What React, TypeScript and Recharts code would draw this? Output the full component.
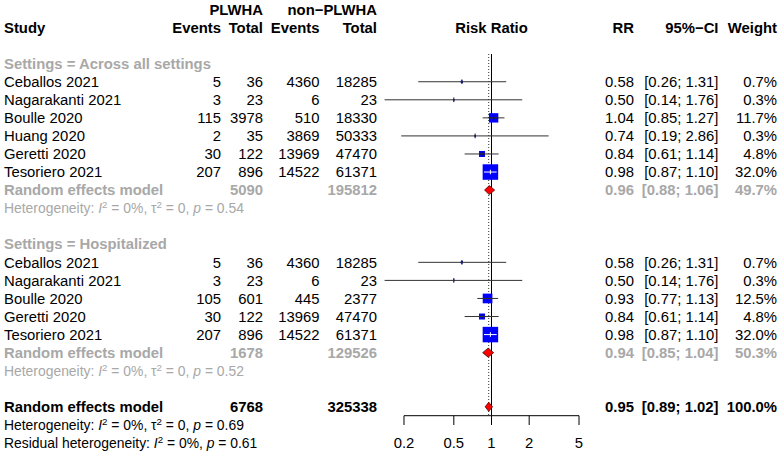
import React from 'react';
import { ComposedChart, XAxis, YAxis, Scatter, ErrorBar, Area, Line } from 'recharts';

// subgroup 1: across all settings
const allStudy = ['Ceballos 2021', 'Nagarakanti 2021', 'Boulle 2020', 'Huang 2020', 'Geretti 2020', 'Tesoriero 2021'];
const allEventsPlwha = [5, 3, 115, 2, 30, 207];
const allTotalPlwha = [36, 23, 3978, 35, 122, 896];
const allEventsNon = [4360, 6, 510, 3869, 13969, 14522];
const allTotalNon = [18285, 23, 18330, 50333, 47470, 61371];
const allRR = [0.58, 0.5, 1.04, 0.74, 0.84, 0.98];
const allLower = [0.26, 0.14, 0.85, 0.19, 0.61, 0.87];
const allUpper = [1.31, 1.76, 1.27, 2.86, 1.14, 1.1];
const allWeight = [0.7, 0.3, 11.7, 0.3, 4.8, 32.0];

// subgroup 2: hospitalized
const hospStudy = ['Ceballos 2021', 'Nagarakanti 2021', 'Boulle 2020', 'Geretti 2020', 'Tesoriero 2021'];
const hospEventsPlwha = [5, 3, 105, 30, 207];
const hospTotalPlwha = [36, 23, 601, 122, 896];
const hospEventsNon = [4360, 6, 445, 13969, 14522];
const hospTotalNon = [18285, 23, 2377, 47470, 61371];
const hospRR = [0.58, 0.5, 0.93, 0.84, 0.98];
const hospLower = [0.26, 0.14, 0.77, 0.61, 0.87];
const hospUpper = [1.31, 1.76, 1.13, 1.14, 1.1];
const hospWeight = [0.7, 0.3, 12.5, 4.8, 32.0];

// subgroup summaries
const subgroupNames = ['Across all settings', 'Hospitalized'];
const subTotalPlwha = [5090, 1678];
const subTotalNon = [195812, 129526];
const subRR = [0.96, 0.94];
const subLower = [0.88, 0.85];
const subUpper = [1.06, 1.04];
const subWeight = [49.7, 50.3];
const subHetP = [0.54, 0.52];

// overall
const overallTotal = [6768, 325338];
const overallRR = 0.95;
const overallLower = 0.89;
const overallUpper = 1.02;
const overallWeight = 100.0;
const overallHetP = 0.69;
const residualHetP = 0.61;

const xTicks = [0.2, 0.5, 1, 2, 5];

// layout
const W = 779;
const H = 454;
const CENTER_X = 491.5;
const PX_PER_LN = 54.37;
const HALF_SPAN = PX_PER_LN * Math.log(10);
const ROW0 = 9.5;
const ROW_H = 18.06;
const TOP_ROW = (54 - ROW0) / ROW_H;
const AXIS_ROW = (415.7 - ROW0) / ROW_H;
const LABEL_ROW = 24;
const DIAMOND_H = 0.25;
const FONT = '"Liberation Sans", Arial, Helvetica, sans-serif';
const FS = 14.85;
const HET_FS = 13.9;
const GRAY = '#a8a8a8';
const COL = { study: 4, evA: 221, totA: 263, evB: 319.5, totB: 377, rr: 634, ci: 718.5, wt: 777 };

type Anchor = 'start' | 'middle' | 'end';
type Cell = { text: string; x: number; anchor: Anchor };
type Het = { prefix: string; i2: string; tau2?: string; p: string };
type TextRow = { x: number; row: number; bold: boolean; color: string; cells: Cell[]; het?: Het };
type CiPoint = { x: number; row: number; w: number; err: number[] };

const groups = [
  { study: allStudy, evA: allEventsPlwha, totA: allTotalPlwha, evB: allEventsNon, totB: allTotalNon, rr: allRR, lo: allLower, hi: allUpper, w: allWeight },
  { study: hospStudy, evA: hospEventsPlwha, totA: hospTotalPlwha, evB: hospEventsNon, totB: hospTotalNon, rr: hospRR, lo: hospLower, hi: hospUpper, w: hospWeight },
];

const fmtCI = (lo: number, hi: number) => `[${lo.toFixed(2)}; ${hi.toFixed(2)}]`;
const boxSide = (w: number) => Math.max(1.6, 15.5 * Math.sqrt(w / 32));

const textRows: TextRow[] = [];
const boxes: { x: number; row: number; w: number }[] = [];
const ciOut: CiPoint[] = [];
const ciIn: CiPoint[] = [];
const diamonds: { rr: number; lo: number; hi: number; row: number }[] = [];

textRows.push({
  x: 1, row: 0, bold: true, color: '#000',
  cells: [
    { text: 'PLWHA', x: COL.totA, anchor: 'end' },
    { text: 'non\u2212PLWHA', x: COL.totB, anchor: 'end' },
  ],
});
textRows.push({
  x: 1, row: 1, bold: true, color: '#000',
  cells: [
    { text: 'Study', x: COL.study, anchor: 'start' },
    { text: 'Events', x: COL.evA, anchor: 'end' },
    { text: 'Total', x: COL.totA, anchor: 'end' },
    { text: 'Events', x: COL.evB, anchor: 'end' },
    { text: 'Total', x: COL.totB, anchor: 'end' },
    { text: 'RR', x: COL.rr, anchor: 'end' },
    { text: '95%\u2212CI', x: COL.ci, anchor: 'end' },
    { text: 'Weight', x: COL.wt, anchor: 'end' },
  ],
});

let row = 3;
groups.forEach((g, gi) => {
  textRows.push({
    x: 1, row, bold: true, color: GRAY,
    cells: [{ text: `Settings = ${subgroupNames[gi]}`, x: COL.study, anchor: 'start' }],
  });
  row++;
  g.study.forEach((s, i) => {
    textRows.push({
      x: 1, row, bold: false, color: '#000',
      cells: [
        { text: s, x: COL.study, anchor: 'start' },
        { text: String(g.evA[i]), x: COL.evA, anchor: 'end' },
        { text: String(g.totA[i]), x: COL.totA, anchor: 'end' },
        { text: String(g.evB[i]), x: COL.evB, anchor: 'end' },
        { text: String(g.totB[i]), x: COL.totB, anchor: 'end' },
        { text: g.rr[i].toFixed(2), x: COL.rr, anchor: 'end' },
        { text: fmtCI(g.lo[i], g.hi[i]), x: COL.ci, anchor: 'end' },
        { text: `${g.w[i].toFixed(1)}%`, x: COL.wt, anchor: 'end' },
      ],
    });
    boxes.push({ x: g.rr[i], row, w: g.w[i] });
    // meta draws the CI in white when it lies fully inside the square
    const half = boxSide(g.w[i]) / 2;
    const inside =
      PX_PER_LN * Math.log(g.rr[i] / g.lo[i]) < half && PX_PER_LN * Math.log(g.hi[i] / g.rr[i]) < half;
    (inside ? ciIn : ciOut).push({ x: g.rr[i], row, w: g.w[i], err: [g.rr[i] - g.lo[i], g.hi[i] - g.rr[i]] });
    row++;
  });
  textRows.push({
    x: 1, row, bold: true, color: GRAY,
    cells: [
      { text: 'Random effects model', x: COL.study, anchor: 'start' },
      { text: String(subTotalPlwha[gi]), x: COL.totA, anchor: 'end' },
      { text: String(subTotalNon[gi]), x: COL.totB, anchor: 'end' },
      { text: subRR[gi].toFixed(2), x: COL.rr, anchor: 'end' },
      { text: fmtCI(subLower[gi], subUpper[gi]), x: COL.ci, anchor: 'end' },
      { text: `${subWeight[gi].toFixed(1)}%`, x: COL.wt, anchor: 'end' },
    ],
  });
  diamonds.push({ rr: subRR[gi], lo: subLower[gi], hi: subUpper[gi], row });
  row++;
  textRows.push({
    x: 1, row, bold: false, color: GRAY, cells: [],
    het: { prefix: 'Heterogeneity: ', i2: '0%', tau2: '0', p: subHetP[gi].toFixed(2) },
  });
  row += 2;
});

textRows.push({
  x: 1, row, bold: true, color: '#000',
  cells: [
    { text: 'Random effects model', x: COL.study, anchor: 'start' },
    { text: String(overallTotal[0]), x: COL.totA, anchor: 'end' },
    { text: String(overallTotal[1]), x: COL.totB, anchor: 'end' },
    { text: overallRR.toFixed(2), x: COL.rr, anchor: 'end' },
    { text: fmtCI(overallLower, overallUpper), x: COL.ci, anchor: 'end' },
    { text: `${overallWeight.toFixed(1)}%`, x: COL.wt, anchor: 'end' },
  ],
});
diamonds.push({ rr: overallRR, lo: overallLower, hi: overallUpper, row });
textRows.push({
  x: 1, row: row + 1, bold: false, color: '#000', cells: [],
  het: { prefix: 'Heterogeneity: ', i2: '0%', tau2: '0', p: overallHetP.toFixed(2) },
});
textRows.push({
  x: 1, row: row + 2, bold: false, color: '#000', cells: [],
  het: { prefix: 'Residual heterogeneity: ', i2: '0%', p: residualHetP.toFixed(2) },
});

const centerLabels = [
  { x: 1, row: 1, label: 'Risk Ratio', bold: true },
  ...xTicks.map(t => ({ x: t, row: LABEL_ROW, label: String(t), bold: false })),
];

const renderTextRow = (p: any) => {
  const r: TextRow = p.payload;
  const y = p.cy;
  if (r.het) {
    const h = r.het;
    return (
      <text x={COL.study} y={y} dy="0.35em" fontFamily={FONT} fontSize={HET_FS} fill={r.color}>
        {h.prefix}
        <tspan fontStyle="italic">I</tspan>
        <tspan dy={-5} fontSize={HET_FS * 0.7}>2</tspan>
        <tspan dy={5}>{` = ${h.i2}, `}</tspan>
        {h.tau2 !== undefined && (
          <>
            <tspan>{'\u03c4'}</tspan>
            <tspan dy={-5} fontSize={HET_FS * 0.7}>2</tspan>
            <tspan dy={5}>{` = ${h.tau2}, `}</tspan>
          </>
        )}
        <tspan fontStyle="italic">p</tspan>
        <tspan>{` = ${h.p}`}</tspan>
      </text>
    );
  }
  return (
    <g>
      {r.cells.map((c, i) => (
        <text
          key={i}
          x={c.x}
          y={y}
          dy="0.35em"
          textAnchor={c.anchor}
          fontFamily={FONT}
          fontSize={FS}
          fontWeight={r.bold ? 700 : 400}
          fill={r.color}
        >
          {c.text}
        </text>
      ))}
    </g>
  );
};

const renderCenterLabel = (p: any) => (
  <text
    x={p.cx}
    y={p.cy}
    dy="0.35em"
    textAnchor="middle"
    fontFamily={FONT}
    fontSize={FS}
    fontWeight={p.payload.bold ? 700 : 400}
    fill="#000"
  >
    {p.payload.label}
  </text>
);

const renderBox = (p: any) => {
  const s = boxSide(p.payload.w);
  return <rect x={p.cx - s / 2} y={p.cy - s / 2} width={s} height={s} fill="#0000ff" />;
};

// cross drawn over the square: the CI passes through it, plus a small tick at the estimate
const estCross = (color: string, across: boolean) => (p: any) => {
  const s = boxSide(p.payload.w);
  return (
    <g>
      {across && (
        <line x1={p.cx - s / 2} x2={p.cx + s / 2} y1={p.cy} y2={p.cy} stroke={color} strokeWidth={1} />
      )}
      <line x1={p.cx} x2={p.cx} y1={p.cy - 2.3} y2={p.cy + 2.3} stroke={color} strokeWidth={1} />
    </g>
  );
};

const renderAxisTick = (p: any) => (
  <line x1={p.cx} x2={p.cx} y1={p.cy} y2={p.cy + 9.3} stroke="#000" strokeWidth={1} />
);

export default function App() {
  return (
    <div style={{ position: 'absolute', left: 0, top: 0, background: '#fff' }}>
      <ComposedChart
        width={W}
        height={H}
        margin={{ top: 0, bottom: 0, left: CENTER_X - HALF_SPAN, right: W - CENTER_X - HALF_SPAN }}
      >
        <XAxis type="number" dataKey="x" scale="log" domain={[0.1, 10]} hide height={0} />
        <YAxis type="number" dataKey="row" domain={[-ROW0 / ROW_H, (H - ROW0) / ROW_H]} reversed hide width={0} />

        <Line
          data={[{ x: 1, row: TOP_ROW }, { x: 1, row: AXIS_ROW }]}
          dataKey="row"
          stroke="#000"
          strokeWidth={1}
          dot={false}
          activeDot={false}
          isAnimationActive={false}
        />
        <Line
          data={[{ x: overallRR, row: TOP_ROW }, { x: overallRR, row: AXIS_ROW }]}
          dataKey="row"
          stroke="#333"
          strokeWidth={1}
          strokeDasharray="1 2"
          dot={false}
          activeDot={false}
          isAnimationActive={false}
        />
        <Line
          data={[{ x: xTicks[0], row: AXIS_ROW }, { x: xTicks[xTicks.length - 1], row: AXIS_ROW }]}
          dataKey="row"
          stroke="#000"
          strokeWidth={1}
          dot={false}
          activeDot={false}
          isAnimationActive={false}
        />

        <Scatter data={boxes} shape={renderBox} isAnimationActive={false} />
        <Scatter data={ciOut} shape={estCross('#000040', true)} isAnimationActive={false}>
          <ErrorBar dataKey="err" direction="x" width={0} stroke="#333" strokeWidth={1} isAnimationActive={false} zIndex={700} />
        </Scatter>
        <Scatter data={ciIn} shape={estCross('#ffffff', false)} isAnimationActive={false}>
          <ErrorBar dataKey="err" direction="x" width={0} stroke="#ffffff" strokeWidth={1} isAnimationActive={false} zIndex={700} />
        </Scatter>

        {diamonds.map((d, i) => (
          <Area
            key={i}
            data={[
              { x: d.lo, r: [d.row, d.row] },
              { x: d.rr, r: [d.row - DIAMOND_H, d.row + DIAMOND_H] },
              { x: d.hi, r: [d.row, d.row] },
            ]}
            dataKey="r"
            type="linear"
            fill="#ff0000"
            fillOpacity={1}
            stroke="#4a0000"
            strokeWidth={0.8}
            dot={false}
            activeDot={false}
            isAnimationActive={false}
            zIndex={650}
          />
        ))}

        <Scatter
          data={xTicks.map(t => ({ x: t, row: AXIS_ROW }))}
          shape={renderAxisTick}
          isAnimationActive={false}
        />
        <Scatter data={centerLabels} shape={renderCenterLabel} isAnimationActive={false} />
        <Scatter data={textRows} shape={renderTextRow} isAnimationActive={false} />
      </ComposedChart>
    </div>
  );
}
